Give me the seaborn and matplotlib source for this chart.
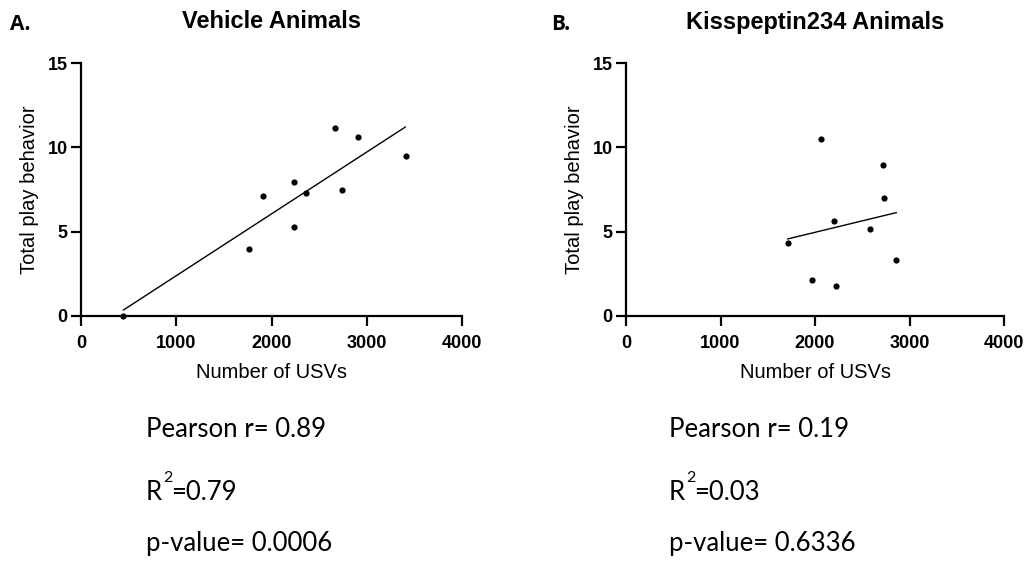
import numpy as np
import pandas as pd
import matplotlib
matplotlib.use("Agg")
import matplotlib.pyplot as plt
import seaborn as sns

# Vehicle group: number of USVs vs total play behavior
veh_usvs = [444, 1761, 1912, 2237, 2237, 2367, 2668, 2735, 2906, 3407]
veh_play = [0.0, 4.0, 7.13, 7.96, 5.28, 7.29, 11.12, 7.47, 10.63, 9.46]

# Kisspeptin234 group
kp_usvs = [1709, 1963, 2065, 2206, 2217, 2587, 2717, 2731, 2862]
kp_play = [4.32, 2.14, 10.48, 5.65, 1.80, 5.15, 8.98, 6.97, 3.31]

panel_letters = ["A.", "B."]
panel_titles = ["Vehicle Animals", "Kisspeptin234 Animals"]
pearson_r = ["0.89", "0.19"]
r_squared = ["0.79", "0.03"]
p_values = ["0.0006", "0.6336"]

x_ticks = [0, 1000, 2000, 3000, 4000]
y_ticks = [0, 5, 10, 15]

sns.set_theme(style="ticks")
plt.rcParams["font.family"] = ["Liberation Sans", "DejaVu Sans"]
plt.rcParams["axes.linewidth"] = 1.6
plt.rcParams["xtick.major.width"] = 1.6
plt.rcParams["ytick.major.width"] = 1.6
plt.rcParams["xtick.major.size"] = 7.5
plt.rcParams["ytick.major.size"] = 7.5
plt.rcParams["xtick.color"] = "black"
plt.rcParams["ytick.color"] = "black"
plt.rcParams["axes.edgecolor"] = "black"

fig = plt.figure(figsize=(10.29, 5.61), dpi=100)
W, H = 1029, 561

axes_px = [(81, 462), (626, 1004)]
y_top, y_bot = 63, 316

groups = [(veh_usvs, veh_play), (kp_usvs, kp_play)]
letter_x = [10, 551]
stats_x = [146, 669]
stats_font = ["Lato", "DejaVu Sans"]
stats_size = 18.5

fig.canvas.draw()
renderer = fig.canvas.get_renderer()

for i, ((x0, x1), (xs, ys)) in enumerate(zip(axes_px, groups)):
    ax = fig.add_axes([x0 / W, 1 - y_bot / H, (x1 - x0) / W, (y_bot - y_top) / H])
    df = pd.DataFrame({"usvs": xs, "play": ys})
    sns.regplot(data=df, x="usvs", y="play", ax=ax, ci=None, truncate=True,
                scatter_kws=dict(s=20, color="black", alpha=1, linewidths=0,
                                 zorder=3, clip_on=False),
                line_kws=dict(color="black", lw=1.0))
    ax.set_xlim(0, 4000)
    ax.set_ylim(0, 15)
    ax.set_xticks(x_ticks)
    ax.set_yticks(y_ticks)
    ax.set_xticklabels([str(t) for t in x_ticks], fontweight="bold", fontsize=13)
    ax.set_yticklabels([str(t) for t in y_ticks], fontweight="bold", fontsize=13)
    ax.tick_params(axis="x", pad=6)
    ax.tick_params(axis="y", pad=2)
    ax.set_xlabel("Number of USVs", fontsize=14.5, labelpad=8, color="black")
    ax.set_ylabel("Total play behavior", fontsize=14.5, labelpad=6, color="black")
    sns.despine(ax=ax)

    cx = (x0 + x1) / 2
    fig.text(cx / W, 1 - 22 / H, panel_titles[i], ha="center", va="center",
             fontsize=17, fontweight="bold", color="black")
    fig.text(letter_x[i] / W, 1 - 25 / H, panel_letters[i], ha="left", va="center",
             fontsize=15, fontweight="bold", color="black", family=["Open Sans", "DejaVu Sans"])

    sx = stats_x[i] / W
    fig.text(sx, 1 - 437 / H, f"Pearson r= {pearson_r[i]}", ha="left", va="baseline",
             fontsize=stats_size, family=stats_font, color="black")

    # R² line: "R", a raised small "2", then the value
    r_txt = fig.text(sx, 1 - 500 / H, "R", ha="left", va="baseline",
                     fontsize=stats_size, family=stats_font, color="black")
    r_right = r_txt.get_window_extent(renderer).x1
    fig.text((r_right + 1) / W, 1 - 482 / H, "2", ha="left", va="baseline",
             fontsize=11.5, family=stats_font, color="black")
    fig.text((r_right + 9) / W, 1 - 500 / H, f"={r_squared[i]}", ha="left", va="baseline",
             fontsize=stats_size, family=stats_font, color="black")

    fig.text(sx, 1 - 551 / H, f"p-value= {p_values[i]}", ha="left", va="baseline",
             fontsize=stats_size, family=stats_font, color="black")

fig.savefig("out.png", dpi=100, facecolor="white")
